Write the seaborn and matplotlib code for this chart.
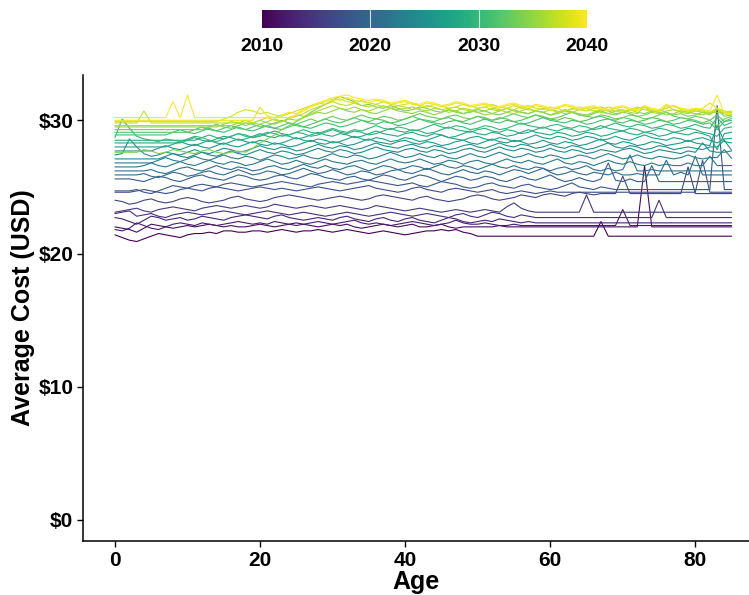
import matplotlib
matplotlib.use("Agg")
import matplotlib.pyplot as plt
import numpy as np
import pandas as pd
import seaborn as sns
from matplotlib.colors import Normalize
from matplotlib.cm import ScalarMappable

# ---------------- data ----------------
ages = list(range(0, 86))
years = list(range(2010, 2041))

cost_2010 = [21.4, 21.2, 21.0, 20.9, 21.1, 21.3, 21.5, 21.4, 21.3, 21.2,
             21.4, 21.5, 21.5, 21.6, 21.5, 21.7, 21.7, 21.6, 21.6, 21.7,
             21.7, 21.6, 21.7, 21.8, 21.7, 21.6, 21.7, 21.7, 21.8, 21.7,
             21.6, 21.7, 21.8, 21.7, 21.6, 21.5, 21.6, 21.7, 21.6, 21.5,
             21.4, 21.5, 21.6, 21.7, 21.7, 21.8, 21.7, 21.8, 21.6, 21.5,
             21.3, 21.3, 21.3, 21.3, 21.3, 21.3, 21.3, 21.3, 21.3, 21.3,
             21.3, 21.3, 21.3, 21.3, 21.3, 21.3, 21.3, 22.4, 21.3, 21.3,
             21.3, 21.3, 21.3, 21.3, 21.3, 21.3, 21.3, 21.3, 21.3, 21.3,
             21.3, 21.3, 21.3, 21.3, 21.3, 21.3]
cost_2011 = [22.0, 21.9, 21.8, 21.6, 21.9, 22.2, 22.1, 22.0, 21.9, 22.0,
             22.1, 22.0, 22.1, 22.2, 22.1, 22.0, 22.1, 22.0, 22.0, 22.1,
             22.2, 22.1, 22.0, 22.1, 22.2, 22.3, 22.2, 22.1, 22.0, 22.1,
             22.2, 22.1, 22.2, 22.0, 21.9, 22.0, 22.1, 22.2, 22.1, 22.0,
             22.1, 22.2, 22.0, 22.0, 22.1, 22.2, 22.0, 21.9, 22.0, 22.0,
             22.0, 22.0, 22.0, 22.1, 22.0, 22.0, 22.0, 22.0, 22.0, 22.0,
             22.0, 22.0, 22.0, 22.0, 22.0, 22.0, 22.0, 22.0, 22.0, 22.0,
             22.0, 22.0, 22.0, 26.6, 22.0, 22.0, 22.0, 22.0, 22.0, 22.0,
             22.0, 22.0, 22.0, 22.0, 22.0, 22.0]
cost_2012 = [21.8, 21.7, 21.9, 22.3, 22.1, 21.9, 21.8, 22.0, 22.2, 22.3,
             22.2, 22.1, 22.3, 22.2, 22.1, 22.2, 22.3, 22.4, 22.3, 22.2,
             22.3, 22.2, 22.4, 22.3, 22.2, 22.1, 22.2, 22.3, 22.4, 22.3,
             22.2, 22.3, 22.4, 22.5, 22.3, 22.2, 22.3, 22.2, 22.1, 22.2,
             22.3, 22.4, 22.3, 22.2, 22.1, 22.2, 22.3, 22.5, 22.3, 22.2,
             22.2, 22.3, 22.2, 22.1, 22.1, 22.2, 22.1, 22.1, 22.1, 22.1,
             22.1, 22.1, 22.1, 22.1, 22.1, 22.1, 22.1, 22.1, 22.1, 22.1,
             23.3, 22.1, 22.1, 22.1, 22.1, 22.1, 22.1, 22.1, 22.1, 22.1,
             22.1, 22.1, 22.1, 22.1, 22.1, 22.1]
cost_2013 = [22.7, 22.6, 22.4, 22.2, 22.5, 22.8, 22.7, 22.5, 22.6, 22.7,
             22.5, 22.6, 22.8, 22.7, 22.6, 22.5, 22.7, 22.8, 22.9, 22.8,
             22.7, 22.6, 22.8, 22.9, 22.7, 22.6, 22.5, 22.6, 22.7, 22.6,
             22.5, 22.7, 22.8, 22.6, 22.5, 22.4, 22.6, 22.7, 22.5, 22.4,
             22.6, 22.7, 22.5, 22.4, 22.3, 22.5, 22.7, 22.6, 22.4, 22.3,
             22.4, 22.5, 22.4, 22.6, 22.5, 22.4, 22.3, 22.4, 22.3, 22.3,
             22.3, 22.3, 22.3, 22.3, 22.3, 22.3, 22.3, 22.3, 22.3, 22.3,
             22.3, 22.3, 22.3, 22.3, 22.3, 22.3, 22.3, 22.3, 22.3, 22.3,
             22.3, 22.3, 22.3, 22.3, 22.3, 22.3]
cost_2014 = [23.0, 23.1, 23.2, 22.8, 22.9, 23.0, 22.8, 22.7, 22.9, 23.0,
             23.1, 23.0, 22.9, 23.0, 23.1, 23.2, 23.1, 23.0, 22.9, 23.0,
             23.1, 23.2, 23.1, 23.0, 22.9, 23.0, 23.1, 23.0, 22.9, 22.8,
             22.9, 23.0, 23.1, 23.0, 22.9, 22.8, 22.9, 23.0, 23.1, 23.0,
             22.9, 22.8, 22.9, 23.0, 22.9, 22.8, 22.7, 22.9, 23.0, 22.8,
             22.7, 22.9, 23.1, 23.0, 22.8, 22.7, 22.9, 22.8, 22.7, 22.7,
             22.7, 22.7, 22.7, 22.7, 22.7, 22.7, 22.7, 22.7, 22.7, 22.7,
             22.7, 22.7, 22.7, 22.7, 22.7, 24.0, 22.7, 22.7, 22.7, 22.7,
             22.7, 22.7, 22.7, 22.7, 22.7, 22.7]
cost_2015 = [23.1, 23.2, 23.3, 23.4, 23.2, 23.1, 23.3, 23.4, 23.5, 23.4,
             23.3, 23.2, 23.4, 23.5, 23.6, 23.5, 23.4, 23.5, 23.6, 23.5,
             23.4, 23.5, 23.7, 23.6, 23.5, 23.4, 23.5, 23.6, 23.5, 23.4,
             23.5, 23.6, 23.5, 23.4, 23.3, 23.4, 23.6, 23.5, 23.4, 23.3,
             23.2, 23.3, 23.4, 23.3, 23.2, 23.1, 23.2, 23.3, 23.2, 23.1,
             23.2, 23.3, 23.2, 23.1, 23.5, 23.8, 23.4, 23.2, 23.1, 23.1,
             23.1, 23.1, 23.1, 23.1, 23.1, 24.4, 23.1, 23.1, 23.1, 23.1,
             23.1, 23.1, 23.1, 23.1, 23.1, 23.1, 23.1, 23.1, 23.1, 23.1,
             23.1, 23.1, 23.1, 23.1, 23.1, 23.1]
cost_2016 = [24.0, 23.9, 23.7, 23.8, 24.0, 24.1, 23.9, 23.8, 23.9, 24.1,
             24.2, 24.1, 23.9, 23.8, 23.9, 24.0, 24.2, 24.3, 24.1, 24.0,
             23.9, 24.0, 24.2, 24.3, 24.4, 24.3, 24.2, 24.1, 24.0, 24.1,
             24.2, 24.3, 24.2, 24.1, 24.0, 24.1, 24.3, 24.4, 24.3, 24.2,
             24.1, 24.0, 24.2, 24.3, 24.1, 24.0, 23.9, 24.0, 24.1, 24.3,
             24.4, 24.3, 24.1, 24.0, 24.1, 24.2, 24.4, 24.3, 24.2, 24.4,
             24.5, 24.4, 24.3, 24.5, 24.6, 24.5, 24.4, 24.5, 24.5, 24.5,
             25.8, 24.5, 24.5, 24.5, 24.5, 24.5, 24.5, 24.5, 24.5, 26.5,
             24.5, 24.5, 24.5, 24.5, 24.5, 24.5]
cost_2017 = [24.6, 24.6, 24.6, 24.7, 24.8, 24.7, 24.6, 24.5, 24.6, 24.8,
             24.9, 24.8, 24.7, 24.9, 25.0, 24.9, 24.8, 24.7, 24.8, 24.9,
             25.0, 24.9, 24.8, 24.9, 24.8, 24.7, 24.8, 24.9, 25.0, 24.9,
             24.8, 24.7, 24.8, 24.9, 25.0, 25.1, 24.9, 24.8, 24.7, 24.6,
             24.7, 24.9, 25.0, 24.8, 24.7, 24.6, 24.8, 24.9, 24.8, 24.7,
             24.6, 24.7, 24.8, 24.6, 24.5, 24.6, 24.7, 24.6, 24.5, 24.6,
             24.7, 24.6, 24.6, 24.6, 24.6, 24.6, 24.6, 24.6, 24.6, 24.6,
             24.6, 24.6, 24.6, 24.6, 24.6, 24.6, 24.6, 24.6, 24.6, 24.6,
             24.6, 27.0, 24.6, 24.6, 24.6, 24.6]
cost_2018 = [24.7, 24.7, 24.7, 24.8, 24.6, 24.5, 24.7, 24.9, 25.1, 25.0,
             24.9, 25.1, 25.2, 25.1, 25.0, 25.2, 25.3, 25.2, 25.1, 25.0,
             25.1, 25.2, 25.3, 25.4, 25.3, 25.2, 25.1, 25.0, 25.2, 25.3,
             25.4, 25.3, 25.2, 25.3, 25.4, 25.5, 25.4, 25.3, 25.2, 25.1,
             25.2, 25.3, 25.1, 25.0, 25.2, 25.4, 25.3, 25.2, 25.0, 24.9,
             25.0, 25.2, 25.3, 25.1, 25.0, 24.9, 25.1, 25.2, 25.0, 24.9,
             24.8, 24.9, 25.1, 25.3, 25.0, 24.9, 24.8, 25.0, 24.9, 24.8,
             24.8, 24.8, 24.8, 24.8, 24.8, 24.8, 24.8, 24.8, 24.8, 24.8,
             24.8, 24.8, 24.8, 31.1, 24.8, 24.8]
cost_2019 = [25.6, 25.6, 25.6, 25.5, 25.4, 25.6, 25.8, 25.7, 25.5, 25.4,
             25.6, 25.8, 25.9, 25.7, 25.6, 25.5, 25.7, 25.9, 25.8, 25.6,
             25.5, 25.6, 25.8, 25.9, 25.7, 25.6, 25.8, 26.0, 25.9, 25.7,
             25.6, 25.5, 25.7, 25.8, 25.6, 25.5, 25.7, 25.9, 25.8, 25.6,
             25.5, 25.7, 25.9, 25.8, 25.6, 25.4, 25.6, 25.8, 25.7, 25.5,
             25.6, 25.8, 25.7, 25.5, 25.4, 25.6, 25.8, 25.6, 25.5, 25.7,
             25.9, 25.6, 25.4, 25.5, 25.7, 25.5, 25.4, 25.6, 26.8, 25.5,
             25.4, 25.6, 25.4, 25.4, 26.6, 25.4, 25.4, 25.4, 25.4, 25.4,
             25.4, 25.4, 25.4, 25.4, 25.4, 25.4]
cost_2020 = [25.9, 25.9, 25.9, 25.9, 26.0, 25.8, 25.7, 25.9, 26.1, 26.0,
             25.8, 25.9, 26.1, 26.2, 26.0, 25.9, 26.1, 26.3, 26.1, 25.9,
             26.0, 26.2, 26.1, 25.9, 26.0, 26.2, 26.4, 26.2, 26.0, 26.1,
             26.3, 26.1, 25.9, 26.0, 26.2, 26.1, 25.9, 26.0, 26.2, 26.3,
             26.1, 26.0, 26.2, 26.4, 26.2, 26.0, 25.9, 26.1, 26.3, 26.1,
             26.0, 26.2, 26.1, 25.9, 26.1, 26.3, 26.2, 26.0, 26.2, 26.4,
             26.1, 25.9, 26.0, 26.2, 26.0, 25.9, 26.1, 26.0, 25.9, 26.1,
             25.9, 25.9, 26.0, 25.9, 25.9, 25.9, 27.0, 25.9, 26.1, 25.9,
             27.3, 25.9, 25.9, 25.9, 25.9, 25.9]
cost_2021 = [26.2, 26.2, 26.2, 26.2, 26.2, 26.3, 26.1, 26.0, 26.2, 26.4,
             26.5, 26.3, 26.2, 26.4, 26.6, 26.4, 26.3, 26.5, 26.4, 26.2,
             26.3, 26.5, 26.6, 26.4, 26.3, 26.5, 26.7, 26.5, 26.4, 26.6,
             26.4, 26.3, 26.5, 26.6, 26.4, 26.2, 26.4, 26.6, 26.5, 26.3,
             26.4, 26.6, 26.5, 26.3, 26.5, 26.7, 26.5, 26.4, 26.6, 26.5,
             26.3, 26.5, 26.7, 26.5, 26.4, 26.6, 26.4, 26.3, 26.5, 26.4,
             26.2, 26.4, 26.5, 26.3, 26.4, 26.6, 26.3, 26.2, 26.4, 26.2,
             26.3, 27.4, 26.2, 26.2, 26.3, 26.2, 26.2, 26.2, 26.2, 26.2,
             26.2, 26.2, 26.2, 26.2, 26.2, 26.2]
cost_2022 = [26.5, 26.5, 26.5, 26.5, 26.6, 26.8, 26.6, 26.5, 26.7, 26.9,
             26.7, 26.6, 26.8, 27.0, 26.8, 26.7, 26.9, 26.8, 26.6, 26.7,
             26.9, 27.1, 26.9, 26.7, 26.8, 27.0, 26.8, 26.7, 26.9, 27.1,
             26.9, 26.8, 26.7, 26.9, 27.0, 26.8, 26.7, 26.9, 27.1, 26.9,
             26.8, 26.9, 27.1, 26.9, 26.7, 26.8, 27.0, 26.9, 26.7, 26.9,
             27.0, 26.8, 26.7, 26.9, 27.1, 26.9, 26.8, 27.0, 26.8, 26.7,
             26.9, 27.1, 26.8, 26.7, 26.9, 26.8, 26.6, 26.8, 27.0, 26.8,
             26.7, 26.9, 26.7, 26.6, 26.8, 26.6, 26.7, 26.6, 26.6, 26.8,
             26.6, 26.6, 27.3, 26.6, 26.6, 26.6]
cost_2023 = [26.8, 26.8, 26.8, 26.8, 26.8, 26.8, 27.0, 27.2, 27.0, 26.9,
             27.1, 27.3, 27.1, 27.0, 27.2, 27.4, 27.2, 27.1, 27.3, 27.2,
             27.0, 27.2, 27.4, 27.3, 27.1, 27.2, 27.4, 27.2, 27.1, 27.3,
             27.5, 27.3, 27.2, 27.4, 27.3, 27.1, 27.2, 27.4, 27.6, 27.4,
             27.2, 27.3, 27.5, 27.3, 27.2, 27.4, 27.2, 27.1, 27.3, 27.5,
             27.3, 27.2, 27.4, 27.6, 27.4, 27.2, 27.3, 27.5, 27.3, 27.2,
             27.4, 27.3, 27.1, 27.2, 27.4, 27.3, 27.1, 27.3, 27.5, 27.3,
             27.1, 27.2, 27.4, 27.2, 27.1, 27.3, 27.2, 27.1, 27.2, 27.4,
             27.2, 27.1, 27.2, 27.2, 27.8, 27.15]
cost_2024 = [27.1, 27.1, 27.1, 27.1, 27.1, 27.1, 27.1, 27.3, 27.5, 27.3,
             27.2, 27.4, 27.6, 27.4, 27.3, 27.5, 27.7, 27.5, 27.4, 27.6,
             27.8, 27.6, 27.5, 27.7, 27.6, 27.4, 27.5, 27.7, 27.9, 27.7,
             27.6, 27.8, 27.7, 27.5, 27.6, 27.8, 28.0, 27.8, 27.7, 27.6,
             27.8, 27.9, 27.7, 27.6, 27.8, 27.7, 27.5, 27.6, 27.8, 27.9,
             27.7, 27.6, 27.8, 28.0, 27.8, 27.7, 27.9, 27.8, 27.6, 27.7,
             27.9, 27.7, 27.6, 27.8, 27.7, 27.5, 27.6, 27.8, 27.7, 27.6,
             27.8, 27.9, 27.7, 27.5, 27.6, 27.8, 27.7, 27.6, 27.5, 27.7,
             27.6, 28.3, 27.7, 27.6, 27.6, 27.7]
cost_2025 = [27.4, 27.5, 28.6, 28.0, 27.5, 27.3, 27.4, 27.6, 27.5, 27.4,
             27.6, 27.8, 27.6, 27.5, 27.7, 27.9, 27.8, 27.6, 27.7, 27.9,
             28.1, 27.9, 27.8, 28.0, 27.9, 27.7, 27.8, 28.0, 28.2, 28.0,
             27.9, 28.1, 28.0, 27.8, 27.9, 28.1, 28.3, 28.1, 28.0, 27.9,
             28.1, 28.2, 28.0, 27.9, 28.1, 28.0, 27.8, 27.9, 28.1, 28.2,
             28.0, 27.9, 28.1, 28.3, 28.1, 28.0, 28.2, 28.1, 27.9, 28.0,
             28.2, 28.0, 27.9, 28.1, 28.0, 27.8, 27.9, 28.1, 28.3, 28.0,
             27.9, 28.1, 28.0, 27.8, 27.9, 28.1, 28.0, 27.8, 27.9, 28.0,
             27.9, 27.8, 28.0, 28.0, 28.5, 27.75]
cost_2026 = [27.7, 27.7, 27.7, 27.7, 27.7, 27.7, 27.9, 28.1, 27.9, 27.8,
             28.0, 28.2, 28.0, 27.9, 28.1, 28.3, 28.1, 28.0, 28.2, 28.4,
             28.2, 28.1, 28.3, 28.2, 28.0, 28.1, 28.3, 28.5, 28.3, 28.2,
             28.4, 28.3, 28.1, 28.2, 28.4, 28.6, 28.4, 28.3, 28.2, 28.4,
             28.5, 28.3, 28.2, 28.4, 28.3, 28.1, 28.2, 28.4, 28.5, 28.3,
             28.2, 28.4, 28.6, 28.4, 28.3, 28.5, 28.4, 28.2, 28.3, 28.5,
             28.3, 28.2, 28.4, 28.3, 28.1, 28.2, 28.4, 28.6, 28.3, 28.2,
             28.4, 28.3, 28.1, 28.2, 28.4, 28.3, 28.1, 28.2, 28.3, 28.5,
             28.3, 28.2, 28.1, 29.6, 28.4, 28.3]
cost_2027 = [28.0, 28.0, 28.0, 28.0, 28.0, 28.0, 28.0, 28.0, 28.2, 28.4,
             28.2, 28.1, 28.3, 28.5, 28.3, 28.2, 28.4, 28.6, 28.4, 28.3,
             28.5, 28.4, 28.2, 28.3, 28.5, 28.7, 28.5, 28.4, 28.6, 28.5,
             28.3, 28.4, 28.6, 28.8, 28.6, 28.5, 28.7, 28.6, 28.4, 28.5,
             28.7, 28.6, 28.4, 28.5, 28.7, 28.9, 28.7, 28.6, 28.5, 28.7,
             28.8, 28.6, 28.5, 28.7, 28.6, 28.4, 28.5, 28.7, 28.9, 28.7,
             28.6, 28.8, 28.7, 28.5, 28.6, 28.8, 28.7, 28.5, 28.6, 28.8,
             28.6, 28.5, 28.7, 28.9, 28.7, 28.6, 28.5, 28.7, 28.6, 28.4,
             28.6, 28.7, 28.5, 28.3, 28.6, 28.65]
cost_2028 = [28.3, 28.3, 28.3, 28.3, 28.3, 28.3, 28.3, 28.3, 28.3, 28.3,
             28.5, 28.7, 28.5, 28.4, 28.6, 28.8, 28.7, 28.5, 28.6, 28.8,
             29.0, 28.8, 28.7, 28.9, 28.8, 28.6, 28.7, 28.9, 29.1, 28.9,
             28.8, 29.0, 28.9, 28.7, 28.8, 29.0, 29.2, 29.0, 28.9, 28.8,
             29.0, 29.1, 28.9, 28.8, 29.0, 28.9, 28.7, 28.8, 29.0, 29.2,
             29.0, 28.9, 29.1, 29.0, 28.8, 28.9, 29.1, 29.3, 29.1, 29.0,
             28.9, 29.1, 29.0, 28.8, 28.9, 29.1, 29.0, 28.8, 28.9, 29.1,
             29.2, 29.0, 28.9, 29.1, 29.0, 28.8, 28.9, 29.1, 29.0, 28.9,
             29.1, 29.0, 28.8, 27.8, 29.0, 29.1]
cost_2029 = [28.5, 28.5, 28.5, 28.5, 28.5, 28.5, 28.5, 28.5, 28.5, 28.5,
             28.5, 28.5, 28.7, 28.9, 28.7, 28.6, 28.8, 29.0, 28.9, 28.7,
             28.8, 29.0, 29.2, 29.0, 28.9, 29.1, 29.0, 28.8, 28.9, 29.1,
             29.3, 29.1, 29.0, 29.2, 29.1, 28.9, 29.0, 29.2, 29.4, 29.2,
             29.1, 29.3, 29.2, 29.0, 29.1, 29.3, 29.5, 29.3, 29.2, 29.1,
             29.3, 29.4, 29.2, 29.1, 29.3, 29.2, 29.0, 29.1, 29.3, 29.5,
             29.3, 29.2, 29.4, 29.3, 29.1, 29.2, 29.4, 29.6, 29.4, 29.3,
             29.2, 29.4, 29.3, 29.1, 29.2, 29.4, 29.3, 29.1, 29.2, 29.4,
             29.3, 29.1, 29.0, 28.8, 29.4, 29.5]
cost_2030 = [28.7, 30.1, 29.4, 28.8, 28.6, 28.5, 28.4, 28.6, 28.5, 28.4,
             28.6, 28.8, 28.7, 28.5, 28.4, 28.6, 28.8, 29.0, 28.8, 28.7,
             28.9, 29.1, 29.0, 28.8, 28.9, 29.1, 29.3, 29.1, 29.0, 29.2,
             29.4, 29.2, 29.1, 29.3, 29.2, 29.4, 29.6, 29.4, 29.3, 29.5,
             29.4, 29.2, 29.3, 29.5, 29.7, 29.5, 29.4, 29.6, 29.5, 29.3,
             29.4, 29.6, 29.5, 29.3, 29.4, 29.6, 29.8, 29.6, 29.5, 29.4,
             29.6, 29.7, 29.5, 29.4, 29.6, 29.5, 29.3, 29.4, 29.6, 29.8,
             29.6, 29.5, 29.7, 29.6, 29.4, 29.5, 29.7, 29.6, 29.4, 29.5,
             29.7, 29.5, 29.4, 30.2, 29.6, 29.85]
cost_2031 = [28.9, 28.9, 28.9, 28.9, 28.9, 28.9, 28.9, 28.9, 29.1, 29.3,
             29.1, 29.0, 29.2, 29.4, 29.2, 29.1, 29.3, 29.5, 29.3, 29.2,
             29.4, 29.6, 29.4, 29.3, 29.5, 29.7, 29.5, 29.4, 29.6, 29.8,
             29.7, 29.5, 29.6, 29.8, 30.0, 29.8, 29.7, 29.9, 29.8, 29.6,
             29.7, 29.9, 30.1, 29.9, 29.8, 29.7, 29.9, 30.0, 29.8, 29.7,
             29.9, 30.1, 29.9, 29.8, 30.0, 29.9, 29.7, 29.8, 30.0, 30.2,
             30.0, 29.9, 29.8, 30.0, 29.9, 29.7, 29.8, 30.0, 30.1, 29.9,
             29.8, 30.0, 29.9, 29.7, 29.8, 30.0, 29.9, 29.7, 29.8, 30.0,
             29.9, 29.7, 29.8, 29.3, 29.9, 30.0]
cost_2032 = [29.1, 29.1, 29.1, 29.1, 29.1, 29.1, 29.1, 29.1, 29.1, 29.1,
             29.1, 29.3, 29.5, 29.3, 29.2, 29.4, 29.6, 29.4, 29.3, 29.5,
             29.7, 29.5, 29.4, 29.6, 29.8, 29.6, 29.5, 29.7, 29.9, 30.1,
             29.9, 29.8, 30.0, 30.2, 30.0, 29.9, 30.1, 30.0, 29.8, 29.9,
             30.1, 30.3, 30.1, 30.0, 29.9, 30.1, 30.2, 30.0, 29.9, 30.1,
             30.3, 30.1, 30.0, 30.2, 30.1, 29.9, 30.0, 30.2, 30.4, 30.2,
             30.1, 30.0, 30.2, 30.1, 29.9, 30.0, 30.2, 30.3, 30.1, 30.0,
             30.2, 30.1, 29.9, 30.0, 30.2, 30.1, 29.9, 30.0, 30.2, 30.1,
             30.0, 29.8, 30.0, 30.4, 29.9, 30.15]
cost_2033 = [29.3, 29.3, 29.3, 29.3, 29.3, 29.3, 29.3, 29.3, 29.3, 29.3,
             29.3, 29.3, 29.3, 29.5, 29.7, 29.5, 29.4, 29.6, 29.8, 29.7,
             29.5, 29.6, 29.8, 30.0, 29.8, 29.7, 29.9, 30.1, 29.9, 30.1,
             30.3, 30.1, 30.0, 30.2, 30.4, 30.2, 30.1, 30.3, 30.2, 30.0,
             30.1, 30.3, 30.5, 30.3, 30.2, 30.1, 30.3, 30.4, 30.2, 30.1,
             30.3, 30.2, 30.0, 30.1, 30.3, 30.5, 30.3, 30.2, 30.4, 30.3,
             30.1, 30.2, 30.4, 30.6, 30.4, 30.3, 30.2, 30.4, 30.3, 30.1,
             30.2, 30.4, 30.3, 30.1, 30.2, 30.4, 30.6, 30.3, 30.2, 30.1,
             30.3, 30.2, 30.0, 29.6, 30.1, 30.3]
cost_2034 = [27.6, 27.6, 27.6, 27.6, 27.8, 27.7, 27.5, 27.6, 27.8, 27.7,
             27.6, 27.5, 27.7, 27.8, 27.6, 27.5, 27.6, 27.7, 27.6, 27.9,
             28.3, 28.6, 28.9, 29.3, 29.6, 29.9, 30.2, 30.6, 30.9, 31.2,
             31.5, 31.8, 31.6, 31.4, 31.1, 31.2, 31.0, 30.9, 31.1, 30.9,
             30.7, 30.8, 31.0, 30.9, 30.7, 30.6, 30.8, 30.7, 30.5, 30.6,
             30.8, 30.7, 30.5, 30.4, 30.6, 30.8, 30.6, 30.5, 30.7, 30.6,
             30.4, 30.5, 30.7, 30.6, 30.4, 30.3, 30.5, 30.7, 30.5, 30.4,
             30.6, 30.5, 30.3, 30.4, 30.6, 30.8, 30.6, 30.4, 30.5, 30.3,
             30.4, 30.6, 30.5, 30.9, 30.3, 30.4]
cost_2035 = [29.5, 29.5, 29.5, 29.5, 29.5, 29.5, 29.5, 29.5, 29.5, 29.5,
             29.5, 29.5, 29.5, 29.5, 29.5, 29.7, 29.9, 29.8, 29.6, 29.8,
             30.0, 29.8, 29.7, 29.9, 30.1, 30.0, 30.2, 30.4, 30.6, 30.5,
             30.7, 30.9, 30.7, 30.6, 30.8, 30.6, 30.5, 30.7, 30.9, 30.7,
             30.6, 30.5, 30.7, 30.6, 30.4, 30.6, 30.8, 30.6, 30.5, 30.7,
             30.6, 30.4, 30.5, 30.7, 30.9, 30.7, 30.6, 30.5, 30.7, 30.6,
             30.4, 30.6, 30.8, 30.6, 30.5, 30.4, 30.6, 30.8, 30.7, 30.5,
             30.6, 30.8, 30.6, 30.5, 30.7, 30.6, 30.4, 30.5, 30.7, 30.6,
             30.5, 30.4, 30.6, 30.6, 30.5, 30.4]
cost_2036 = [29.6, 29.6, 29.6, 29.6, 29.6, 29.6, 29.6, 29.6, 29.6, 29.6,
             29.6, 29.6, 29.6, 29.6, 29.6, 29.6, 29.6, 29.8, 30.0, 29.8,
             29.7, 29.9, 30.1, 29.9, 30.2, 30.4, 30.3, 30.5, 30.7, 30.9,
             31.1, 30.9, 30.8, 31.0, 30.8, 30.7, 30.9, 31.1, 30.9, 30.8,
             30.9, 31.0, 30.8, 30.7, 30.9, 30.8, 30.6, 30.7, 30.9, 30.8,
             30.6, 30.7, 30.9, 30.8, 30.6, 30.5, 30.7, 30.9, 30.7, 30.6,
             30.8, 30.7, 30.5, 30.6, 30.8, 30.9, 30.7, 30.6, 30.5, 30.7,
             30.8, 30.6, 30.5, 31.0, 30.6, 30.5, 30.7, 30.8, 30.6, 30.5,
             30.7, 30.6, 30.4, 30.8, 30.5, 30.6]
cost_2037 = [29.8, 29.8, 29.8, 29.8, 30.7, 29.8, 29.8, 29.8, 29.8, 29.8,
             29.8, 29.8, 29.8, 29.8, 29.8, 29.8, 29.8, 29.8, 29.8, 29.8,
             30.0, 30.2, 30.0, 29.9, 30.1, 30.3, 30.5, 30.8, 31.0, 31.2,
             31.4, 31.2, 31.1, 31.3, 31.1, 31.0, 31.2, 31.0, 30.9, 31.1,
             31.0, 30.8, 30.9, 31.1, 31.0, 30.8, 30.9, 31.0, 30.8, 30.7,
             30.9, 31.0, 30.8, 30.7, 30.9, 31.1, 30.9, 30.8, 30.7, 30.9,
             30.8, 30.6, 30.7, 30.9, 30.8, 30.7, 30.9, 31.0, 30.8, 30.7,
             30.6, 30.8, 31.0, 30.8, 30.7, 30.6, 31.1, 30.8, 30.7, 30.6,
             30.8, 30.7, 30.5, 30.9, 30.6, 30.7]
cost_2038 = [29.9, 29.9, 29.9, 29.9, 29.9, 29.9, 29.9, 29.9, 29.9, 29.9,
             29.9, 29.9, 29.9, 29.9, 29.9, 30.1, 30.3, 30.6, 30.8, 30.7,
             30.5, 30.6, 30.4, 30.3, 30.5, 30.7, 30.9, 31.1, 31.3, 31.2,
             31.5, 31.6, 31.4, 31.3, 31.5, 31.3, 31.2, 31.4, 31.2, 31.1,
             31.2, 31.3, 31.1, 31.0, 31.2, 31.1, 30.9, 31.0, 31.2, 31.1,
             30.9, 31.0, 31.2, 31.0, 30.9, 30.8, 31.0, 31.1, 30.9, 30.8,
             31.0, 30.9, 30.7, 30.8, 31.0, 30.9, 30.7, 30.8, 31.0, 30.9,
             30.7, 30.8, 30.9, 31.0, 30.8, 30.7, 30.9, 31.1, 30.8, 30.7,
             30.9, 30.8, 30.6, 30.9, 30.7, 30.6]
cost_2039 = [30.0, 30.0, 30.0, 30.0, 30.0, 30.0, 30.0, 30.0, 30.0, 30.0,
             30.0, 30.0, 30.0, 30.0, 30.0, 30.0, 30.0, 30.0, 30.0, 30.0,
             31.0, 30.3, 30.2, 30.4, 30.6, 30.5, 30.8, 31.0, 31.2, 31.4,
             31.6, 31.5, 31.7, 31.5, 31.4, 31.3, 31.5, 31.4, 31.2, 31.3,
             31.4, 31.2, 31.1, 31.3, 31.2, 31.0, 31.1, 31.3, 31.2, 31.0,
             31.1, 31.2, 31.0, 30.9, 31.1, 31.2, 31.0, 30.9, 31.1, 31.0,
             30.8, 30.9, 31.1, 31.0, 30.8, 30.9, 31.0, 30.8, 30.7, 30.9,
             31.0, 30.8, 30.7, 31.0, 30.8, 30.7, 30.9, 31.1, 30.9, 30.8,
             30.7, 30.9, 31.3, 30.9, 30.6, 30.5]
cost_2040 = [30.2, 30.2, 30.2, 30.2, 30.2, 30.2, 30.2, 30.2, 31.4, 30.2,
             31.9, 30.2, 30.2, 30.2, 30.2, 30.2, 30.2, 30.2, 30.2, 30.2,
             30.2, 30.2, 30.2, 30.2, 30.2, 30.4, 30.7, 31.0, 31.3, 31.5,
             31.7, 31.8, 31.9, 31.7, 31.6, 31.5, 31.6, 31.5, 31.3, 31.4,
             31.5, 31.3, 31.2, 31.4, 31.3, 31.1, 31.2, 31.4, 31.3, 31.1,
             31.2, 31.3, 31.1, 31.0, 31.2, 31.3, 31.1, 31.0, 31.2, 31.1,
             30.9, 31.0, 31.2, 31.1, 30.9, 31.0, 31.1, 30.9, 30.8, 31.0,
             31.1, 30.9, 30.8, 31.1, 30.9, 30.8, 31.2, 31.0, 30.9, 30.8,
             30.9, 30.8, 30.7, 31.9, 30.5, 30.4]

y_ticks = [0, 10, 20, 30]
y_tick_labels = ["$0", "$10", "$20", "$30"]
x_ticks = [0, 20, 40, 60, 80]
legend_ticks = [2010, 2020, 2030, 2040]

series = {
    2010: cost_2010, 2011: cost_2011, 2012: cost_2012, 2013: cost_2013,
    2014: cost_2014, 2015: cost_2015, 2016: cost_2016, 2017: cost_2017,
    2018: cost_2018, 2019: cost_2019, 2020: cost_2020, 2021: cost_2021,
    2022: cost_2022, 2023: cost_2023, 2024: cost_2024, 2025: cost_2025,
    2026: cost_2026, 2027: cost_2027, 2028: cost_2028, 2029: cost_2029,
    2030: cost_2030, 2031: cost_2031, 2032: cost_2032, 2033: cost_2033,
    2034: cost_2034, 2035: cost_2035, 2036: cost_2036, 2037: cost_2037,
    2038: cost_2038, 2039: cost_2039, 2040: cost_2040,
}

rows = []
for yr in years:
    vals = series[yr]
    assert len(vals) == len(ages), (yr, len(vals))
    for a, v in zip(ages, vals):
        rows.append((a, v, yr))
df = pd.DataFrame(rows, columns=["Age", "Cost", "Year"])

# ---------------- style ----------------
sns.set_theme(style="white")
plt.rcParams["font.family"] = ["Liberation Sans", "DejaVu Sans"]
plt.rcParams["font.weight"] = "bold"

W, H = 749, 595
fig = plt.figure(figsize=(W / 100, H / 100), dpi=100)
fig.patch.set_facecolor("white")

ax = fig.add_axes([83 / W, 54 / H, 666 / W, 466 / H])
ax.set_facecolor("white")

sns.lineplot(data=df, x="Age", y="Cost", hue="Year", palette="viridis",
             hue_norm=(2010, 2040), legend=False, linewidth=0.8,
             estimator=None, sort=True, ax=ax)

ax.set_xlim(-4.4, 87.4)
ax.set_ylim(-1.58, 33.4)
ax.set_xticks(x_ticks)
ax.set_xticklabels([str(t) for t in x_ticks])
ax.set_yticks(y_ticks)
ax.set_yticklabels(y_tick_labels)

for side in ["top", "right"]:
    ax.spines[side].set_visible(False)
for side in ["left", "bottom"]:
    ax.spines[side].set_color("black")
    ax.spines[side].set_linewidth(1.1)

ax.tick_params(axis="both", direction="out", length=4, width=1, color="black",
               labelcolor="black", labelsize=15, pad=3, bottom=True, left=True)
for lbl in ax.get_xticklabels() + ax.get_yticklabels():
    lbl.set_fontweight("bold")

ax.set_xlabel("Age", fontsize=18, fontweight="bold", color="black")
ax.set_ylabel("Average Cost (USD)", fontsize=18, fontweight="bold", color="black")
ax.xaxis.set_label_coords(0.5, -0.062)
ax.yaxis.set_label_coords(-0.072, 0.5)
ax.grid(False)

# ---------------- colorbar legend ----------------
cax = fig.add_axes([262 / W, (H - 28) / H, 325 / W, 18 / H])
norm = Normalize(vmin=2010, vmax=2040)
sm = ScalarMappable(norm=norm, cmap="viridis")
cb = fig.colorbar(sm, cax=cax, orientation="horizontal")
cb.outline.set_visible(False)
cb.set_ticks(legend_ticks)
cb.set_ticklabels([str(t) for t in legend_ticks])
cax.tick_params(length=0, labelsize=14, pad=7, labelcolor="black")
for lbl in cax.get_xticklabels():
    lbl.set_fontweight("bold")
for t in [2020, 2030]:
    cax.axvline(t, color="white", linewidth=0.8, alpha=0.8)

fig.savefig("out.png", dpi=100, facecolor="white")
